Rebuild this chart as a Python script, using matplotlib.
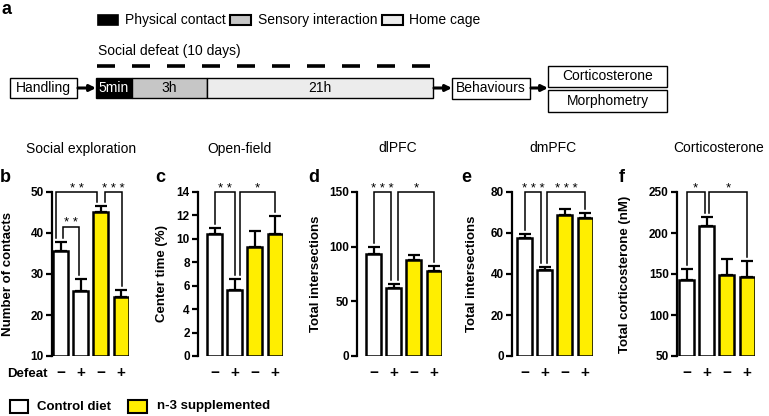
import numpy as np
import matplotlib
matplotlib.use("Agg")
import matplotlib.pyplot as plt
from matplotlib.patches import Rectangle

plt.rcParams['font.family'] = ['Liberation Sans', 'DejaVu Sans']

W, H = 769, 416

# ---- data ----
defeat = ['−', '+', '−', '+']
yellow = '#ffee00'
bar_colors = ['white', 'white', yellow, yellow]

titles = ['Social exploration', 'Open-field', 'dlPFC', 'dmPFC', 'Corticosterone']
letters = ['b', 'c', 'd', 'e', 'f']
ylabels = ['Number of contacts', 'Center time (%)', 'Total intersections',
           'Total intersections', 'Total corticosterone (nM)']

social_mean = [35.6, 25.9, 45.1, 24.4]
social_err = [2.1, 2.9, 1.4, 1.7]
open_mean = [10.4, 5.6, 9.3, 10.4]
open_err = [0.55, 0.95, 1.35, 1.55]
dlpfc_mean = [93, 62, 88, 78]
dlpfc_err = [7, 3.5, 4, 4]
dmpfc_mean = [57.8, 42.0, 68.7, 67.5]
dmpfc_err = [1.8, 1.6, 3.2, 2.3]
cort_mean = [142.5, 208, 149, 146]
cort_err = [14, 12, 19, 20]

means = [social_mean, open_mean, dlpfc_mean, dmpfc_mean, cort_mean]
errs = [social_err, open_err, dlpfc_err, dmpfc_err, cort_err]
ylims = [(10, 50), (0, 14), (0, 150), (0, 80), (50, 250)]
yticks = [[10, 20, 30, 40, 50], list(range(0, 15, 2)), [0, 50, 100, 150],
          [0, 20, 40, 60, 80], [50, 100, 150, 200, 250]]

# significance brackets: (bar i, bar j, stars, leg shift i, leg shift j, top)
brackets = [
    [(0, 2, '* *', -0.24, -0.17, 50), (0, 1, '* *', 0.11, -0.07, 41.5),
     (2, 3, '* * *', 0.18, 0.03, 50)],
    [(0, 1, '* *', 0, 0, 14), (1, 3, '*', 0.28, 0, 14)],
    [(0, 1, '* * *', 0, -0.12, 150), (1, 3, '*', 0.23, 0, 150)],
    [(0, 1, '* * *', 0, -0.17, 80), (1, 3, '* * *', 0.13, 0, 80)],
    [(0, 1, '*', 0, -0.1, 250), (1, 3, '*', 0.12, 0, 250)],
]

# layout in pixels
spine_x = [52, 198, 357, 512, 677]
bar_off = [1, 9, 9, 5, 2]
letter_x = [5, 160, 314, 466, 622]
ylabel_x = [8, 162, 316, 472, 625]
title_x = [81, 240, 398, 553, 719]
pitch = 20.2
ax_top, ax_bot = 192, 356

fig = plt.figure(figsize=(W / 100, H / 100), dpi=100)

# overlay axes in pixel coordinates for panel a and loose text
ov = fig.add_axes([0, 0, 1, 1])
ov.set_xlim(0, W)
ov.set_ylim(H, 0)
ov.axis('off')


def box(x0, y0, x1, y1, fc, lw=1.0):
    ov.add_patch(Rectangle((x0, y0), x1 - x0, y1 - y0, facecolor=fc,
                           edgecolor='black', lw=lw))


def arrow(x0, x1, y):
    ov.annotate('', xy=(x1, y), xytext=(x0, y),
                arrowprops=dict(arrowstyle='-|>', lw=2.2, color='black',
                                mutation_scale=9, shrinkA=0, shrinkB=0))


ov.text(1, 9, 'a', fontsize=13, fontweight='bold', va='center')

# legend of panel a
box(98, 15, 118, 25, 'black', 1.2)
ov.text(125, 20, 'Physical contact', fontsize=10, va='center')
box(230, 15, 251, 25, '#c6c6c6', 1.5)
ov.text(258, 20, 'Sensory interaction', fontsize=10, va='center')
box(382, 15, 403, 25, '#ececec', 1.5)
ov.text(409, 20, 'Home cage', fontsize=10, va='center')

ov.text(98, 51, 'Social defeat (10 days)', fontsize=10, va='center')
for k in range(10):
    ov.plot([97 + 35 * k, 115 + 35 * k], [66, 66], color='black', lw=2.6,
            solid_capstyle='butt')

# timeline
box(10, 78, 77, 98, 'white')
ov.text(43.5, 88, 'Handling', fontsize=10, ha='center', va='center')
arrow(78, 96, 88)
box(96, 78, 132, 98, 'black')
ov.text(114, 88, '5min', fontsize=10, ha='center', va='center', color='white')
box(132, 78, 207, 98, '#c6c6c6')
ov.text(169.5, 88, '3h', fontsize=10, ha='center', va='center')
box(207, 78, 433, 98, '#ececec')
ov.text(320, 88, '21h', fontsize=10, ha='center', va='center')
arrow(434, 452, 88)
box(452, 78, 530, 99, 'white')
ov.text(491, 88.5, 'Behaviours', fontsize=10, ha='center', va='center')
arrow(531, 548, 88)
box(548, 66, 667, 87, 'white')
ov.text(607.5, 76.5, 'Corticosterone', fontsize=10, ha='center', va='center')
box(548, 90, 667, 112, 'white')
ov.text(607.5, 101, 'Morphometry', fontsize=10, ha='center', va='center')

# bottom legend
box(10, 400, 28, 413, 'white', 1.5)
ov.text(37, 406.5, 'Control diet', fontsize=9.5, fontweight='bold', va='center')
box(128, 400, 147, 413, yellow, 1.5)
ov.text(157, 406.5, 'n-3 supplemented', fontsize=9.5, fontweight='bold', va='center')
ov.text(7, 374, 'Defeat', fontsize=9.5, fontweight='bold', va='center')

x = np.arange(4)
for p in range(5):
    xl = -(bar_off[p] + 7.5) / pitch
    xr = 3.4
    left = spine_x[p] / W
    width = (xr - xl) * pitch / W
    ax = fig.add_axes([left, 1 - ax_bot / H, width, (ax_bot - ax_top) / H])
    ax.set_xlim(xl, xr)
    lo, hi = ylims[p]
    ax.set_ylim(lo, hi)
    m = np.array(means[p])
    e = np.array(errs[p])
    ax.bar(x, m - lo, bottom=lo, width=0.75, color=bar_colors,
           edgecolor='black', lw=1.8, zorder=2)
    ax.errorbar(x, m, yerr=[np.zeros(4), e], fmt='none', ecolor='black',
                elinewidth=1.6, capsize=4.3, capthick=1.6, zorder=1)
    for s in ['top', 'right', 'bottom']:
        ax.spines[s].set_visible(False)
    ax.spines['left'].set_linewidth(1.6)
    ax.set_yticks(yticks[p])
    ax.tick_params(axis='y', direction='out', length=4, width=1.6,
                   labelsize=8.5, pad=2)
    for t in ax.get_yticklabels():
        t.set_fontweight('bold')
    ax.set_xticks(x)
    ax.set_xticklabels(defeat, fontsize=11, fontweight='bold')
    ax.tick_params(axis='x', length=0, pad=7)

    pad = 0.025 * (hi - lo)
    for i, j, lab, di, dj, top in brackets[p]:
        xi, xj = i + di, j + dj
        yi = m[i] + e[i] + pad
        yj = m[j] + e[j] + pad
        ax.plot([xi, xi, xj, xj], [yi, top, top, yj], color='black', lw=1.1,
                clip_on=False, solid_joinstyle='miter')
        ax.annotate(lab, xy=((xi + xj) / 2, top), xytext=(0, 0.3),
                    textcoords='offset points', ha='center', va='baseline',
                    fontsize=9.5, annotation_clip=False)

    yc = (ax_top + ax_bot) / 2
    ov.text(title_x[p], 148.5, titles[p], fontsize=10, ha='center', va='center')
    ov.text(letter_x[p], 177, letters[p], fontsize=13, fontweight='bold',
            ha='center', va='center')
    ov.text(ylabel_x[p], yc, ylabels[p], fontsize=9.5, fontweight='bold',
            rotation=90, ha='center', va='center')

fig.savefig('out.png', dpi=100)
